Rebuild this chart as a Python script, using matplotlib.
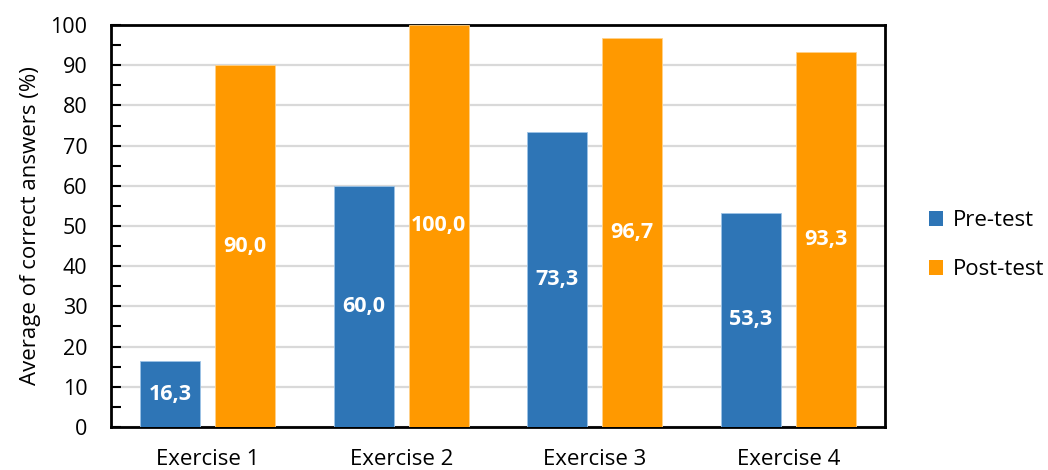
import matplotlib
matplotlib.use("Agg")
import matplotlib.pyplot as plt
import numpy as np
from matplotlib.patches import Patch
from matplotlib.ticker import MultipleLocator

categories = ["Exercise 1", "Exercise 2", "Exercise 3", "Exercise 4"]
pre_test = [16.3, 60.0, 73.3, 53.3]
post_test = [90.0, 100.0, 96.7, 93.3]
series_names = ["Pre-test", "Post-test"]

BLUE = "#2E75B6"
ORANGE = "#FF9900"

plt.rcParams["font.family"] = ["Open Sans", "DejaVu Sans"]

fig = plt.figure(figsize=(10.48, 4.70), dpi=100)
ax = fig.add_axes([0.1059, 0.0915, 0.7386, 0.8553])

x = np.arange(len(categories))
w = 0.31
off = 0.194
b1 = ax.bar(x - off, pre_test, w, color=BLUE, edgecolor="#9DC3E6", linewidth=0.6, zorder=3)
b2 = ax.bar(x + off, post_test, w, color=ORANGE, edgecolor="#FFD28A", linewidth=0.6, zorder=3)

for bars, vals in ((b1, pre_test), (b2, post_test)):
    for r, v in zip(bars, vals):
        ax.text(r.get_x() + r.get_width() / 2, v / 2, f"{v:.1f}".replace(".", ","),
                ha="center", va="center", color="white", fontsize=15.5,
                fontweight="bold", zorder=4)

ax.set_xlim(-0.5, len(categories) - 0.5)
ax.set_ylim(0, 100)
ax.yaxis.set_major_locator(MultipleLocator(10))
ax.yaxis.set_minor_locator(MultipleLocator(5))
ax.grid(axis="y", which="major", color="#D9D9D9", linewidth=1.6, zorder=0)
ax.set_axisbelow(True)

ax.set_xticks(x)
ax.set_xticklabels(categories, fontsize=16)
ax.tick_params(axis="x", length=0, pad=16)
ax.tick_params(axis="y", which="major", direction="in", length=7, width=1.5,
               labelsize=15.5, pad=17)
ax.tick_params(axis="y", which="minor", direction="in", length=7, width=1.5)
for s in ax.spines.values():
    s.set_linewidth(2)
    s.set_color("black")

ax.set_ylabel("Average of correct answers (%)", fontsize=16, labelpad=7)

handles = [Patch(facecolor=BLUE, label=series_names[0]),
           Patch(facecolor=ORANGE, label=series_names[1])]
fig.legend(handles=handles, loc="center left", bbox_to_anchor=(0.886, 0.478),
           frameon=False, fontsize=16, handlelength=0.65, handleheight=0.65,
           handletextpad=0.45, labelspacing=1.25, borderpad=0, borderaxespad=0)

fig.savefig("out.png", dpi=100)
